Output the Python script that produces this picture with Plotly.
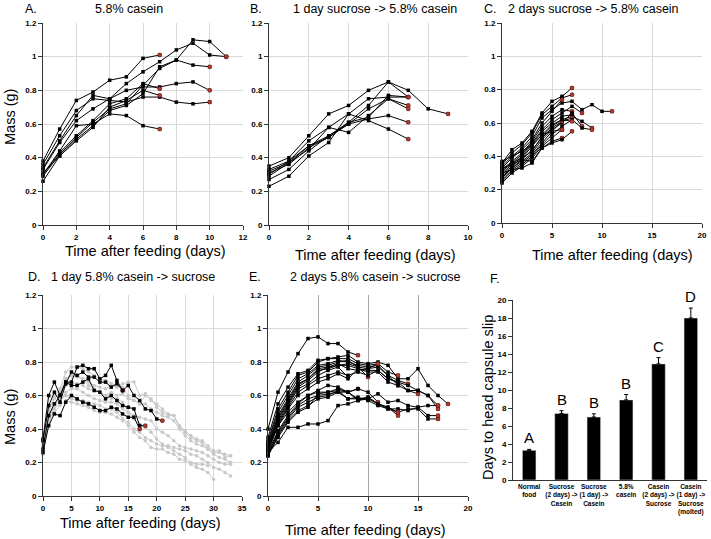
import plotly.graph_objects as go
from plotly.subplots import make_subplots

# mass (g) per day, one list per caterpillar; day = index
casein_58 = [
    [0.38, 0.57, 0.74, 0.79, 0.86, 0.88, 0.99, 1.01],
    [0.36, 0.53, 0.68, 0.75, 0.74, 0.73, 0.76, 0.76, 0.73, 0.72, 0.73],
    [0.34, 0.50, 0.65, 0.77, 0.75, 0.84, 0.91, 0.97, 1.04, 1.08, 1.01, 1.00],
    [0.33, 0.49, 0.62, 0.69, 0.75, 0.80, 0.82, 0.82, 0.84, 0.85, 0.80],
    [0.30, 0.44, 0.59, 0.60, 0.66, 0.65, 0.59, 0.57],
    [0.30, 0.43, 0.53, 0.62, 0.72, 0.75, 0.84, 0.81],
    [0.29, 0.42, 0.52, 0.61, 0.69, 0.72, 0.83, 0.93, 0.98, 1.10, 1.09, 1.00],
    [0.26, 0.41, 0.51, 0.59, 0.68, 0.71, 0.78, 0.94, 0.98, 0.95, 0.94],
    [0.31, 0.41, 0.50, 0.58, 0.70, 0.74, 0.80, 0.77],
]

sucrose1_casein = [
    [0.35, 0.40, 0.53, 0.66, 0.71, 0.80, 0.85, 0.80, 0.69, 0.66],
    [0.33, 0.38, 0.50, 0.58, 0.66, 0.75, 0.76, 0.76],
    [0.32, 0.37, 0.47, 0.53, 0.61, 0.71, 0.85, 0.76],
    [0.31, 0.36, 0.46, 0.52, 0.60, 0.69, 0.75, 0.71],
    [0.29, 0.37, 0.45, 0.58, 0.55, 0.65, 0.75, 0.69],
    [0.27, 0.33, 0.44, 0.53, 0.60, 0.63, 0.65, 0.61],
    [0.23, 0.29, 0.41, 0.49, 0.66, 0.62, 0.57, 0.51],
    [0.30, 0.38, 0.47, 0.52, 0.61, 0.64, 0.77, 0.76],
]

sucrose2_casein = [
    [0.36, 0.44, 0.48, 0.55, 0.66, 0.73, 0.76, 0.81],
    [0.35, 0.42, 0.47, 0.54, 0.65, 0.70, 0.75, 0.77],
    [0.34, 0.40, 0.45, 0.52, 0.63, 0.68, 0.72, 0.73, 0.68, 0.71, 0.67, 0.67],
    [0.33, 0.39, 0.44, 0.50, 0.60, 0.67, 0.74],
    [0.32, 0.37, 0.42, 0.49, 0.58, 0.64, 0.68, 0.67],
    [0.31, 0.36, 0.41, 0.48, 0.56, 0.62, 0.66, 0.70, 0.66],
    [0.30, 0.35, 0.40, 0.47, 0.55, 0.60, 0.64, 0.65],
    [0.29, 0.34, 0.39, 0.46, 0.53, 0.59, 0.62, 0.64, 0.61, 0.57],
    [0.28, 0.33, 0.38, 0.44, 0.51, 0.57, 0.61, 0.63],
    [0.27, 0.33, 0.37, 0.42, 0.50, 0.56, 0.60, 0.66, 0.58],
    [0.26, 0.32, 0.36, 0.41, 0.48, 0.55, 0.61],
    [0.25, 0.31, 0.35, 0.40, 0.47, 0.53, 0.58, 0.62, 0.57, 0.56],
    [0.24, 0.30, 0.34, 0.39, 0.46, 0.51, 0.56],
    [0.37, 0.40, 0.43, 0.47, 0.53, 0.55, 0.56],
    [0.33, 0.35, 0.38, 0.37, 0.45, 0.49, 0.51],
    [0.30, 0.32, 0.33, 0.36, 0.45, 0.48, 0.50, 0.55],
    [0.32, 0.36, 0.39, 0.43, 0.52, 0.58, 0.62, 0.61],
]

casein1_sucrose = [
    [0.34, 0.60, 0.68, 0.60, 0.68, 0.68, 0.77, 0.78, 0.76, 0.76, 0.70, 0.72, 0.78, 0.69, 0.63],
    [0.33, 0.54, 0.62, 0.56, 0.67, 0.74, 0.72, 0.74, 0.71, 0.71, 0.68, 0.68, 0.65, 0.67, 0.63,
     0.66, 0.60, 0.57, 0.52, 0.51, 0.46, 0.45],
    [0.28, 0.48, 0.55, 0.60, 0.68, 0.66, 0.66, 0.68, 0.70, 0.63, 0.62, 0.58, 0.60, 0.57, 0.54,
     0.53, 0.52, 0.42, 0.42],
    [0.26, 0.42, 0.49, 0.48, 0.56, 0.60, 0.58, 0.56, 0.55, 0.53, 0.51, 0.51, 0.53, 0.52, 0.49,
     0.47, 0.47, 0.40],
]

# molted larvae (grey)
casein1_sucrose_molted = [
    [0.30, 0.50, 0.58, 0.62, 0.70, 0.72, 0.72, 0.70, 0.68, 0.66, 0.65, 0.64, 0.66, 0.65, 0.67,
     0.68, 0.68, 0.60, 0.61, 0.57, 0.55, 0.52, 0.49, 0.48, 0.41, 0.38, 0.35, 0.33, 0.32, 0.28,
     0.26, 0.26, 0.25, 0.24],
    [0.28, 0.48, 0.55, 0.58, 0.66, 0.68, 0.67, 0.66, 0.64, 0.63, 0.62, 0.60, 0.62, 0.60, 0.61,
     0.58, 0.57, 0.55, 0.55, 0.52, 0.50, 0.48, 0.47, 0.45, 0.40, 0.36, 0.33, 0.31, 0.30, 0.28,
     0.25, 0.23, 0.22, 0.20],
    [0.27, 0.45, 0.52, 0.56, 0.62, 0.64, 0.64, 0.62, 0.60, 0.58, 0.57, 0.56, 0.56, 0.55, 0.52,
     0.50, 0.48, 0.47, 0.46, 0.45, 0.40, 0.38, 0.36, 0.33, 0.30, 0.29, 0.28, 0.27, 0.26, 0.24,
     0.22, 0.20, 0.19, 0.19],
    [0.30, 0.47, 0.54, 0.57, 0.60, 0.58, 0.57, 0.57, 0.56, 0.55, 0.54, 0.52, 0.52, 0.50, 0.46,
     0.44, 0.40, 0.38, 0.35, 0.33, 0.31, 0.30, 0.30, 0.29, 0.28, 0.27, 0.25, 0.24, 0.22, 0.20,
     0.17, 0.16, 0.14, 0.12],
    [0.25, 0.44, 0.50, 0.54, 0.57, 0.56, 0.55, 0.54, 0.53, 0.51, 0.50, 0.50, 0.49, 0.47, 0.45,
     0.42, 0.38, 0.35, 0.33, 0.29, 0.28, 0.28, 0.26, 0.25, 0.22, 0.21, 0.19, 0.17, 0.16, 0.14,
     0.10],
    [0.28, 0.46, 0.54, 0.60, 0.70, 0.72, 0.71, 0.70, 0.66, 0.64, 0.62, 0.60, 0.58, 0.58, 0.56,
     0.50, 0.46, 0.43, 0.41, 0.38, 0.34, 0.31, 0.29, 0.27, 0.25, 0.23, 0.20, 0.19, 0.19, 0.18],
    [0.32, 0.52, 0.60, 0.64, 0.74, 0.77, 0.77, 0.76, 0.74, 0.72, 0.70, 0.69, 0.67, 0.66, 0.65,
     0.60, 0.57, 0.55, 0.60, 0.58, 0.53, 0.50, 0.48, 0.48, 0.42, 0.39, 0.36, 0.34, 0.33, 0.30,
     0.27, 0.27, 0.23, 0.24],
]

casein2_sucrose = [
    [0.40, 0.62, 0.74, 0.85, 0.94, 0.95, 0.91, 0.91, 0.86, 0.84],
    [0.35, 0.55, 0.65, 0.73, 0.75, 0.81, 0.82, 0.83, 0.84, 0.80, 0.79, 0.80, 0.78, 0.70, 0.70,
     0.76, 0.66, 0.60, 0.55],
    [0.33, 0.52, 0.62, 0.72, 0.74, 0.80, 0.82, 0.82, 0.82, 0.79, 0.78, 0.79, 0.74, 0.72],
    [0.32, 0.50, 0.60, 0.70, 0.73, 0.78, 0.79, 0.81, 0.80, 0.78, 0.77, 0.78, 0.72, 0.69, 0.67],
    [0.31, 0.48, 0.58, 0.68, 0.72, 0.77, 0.78, 0.80, 0.81, 0.77, 0.76, 0.77, 0.72, 0.66],
    [0.30, 0.47, 0.57, 0.67, 0.70, 0.76, 0.77, 0.78, 0.79, 0.77, 0.71],
    [0.30, 0.46, 0.56, 0.66, 0.70, 0.75, 0.76, 0.78, 0.78, 0.76, 0.75, 0.75, 0.70, 0.68, 0.63, 0.61],
    [0.29, 0.45, 0.55, 0.65, 0.69, 0.74, 0.77, 0.79, 0.76, 0.75, 0.76, 0.79],
    [0.28, 0.44, 0.54, 0.64, 0.67, 0.72, 0.75, 0.77, 0.71],
    [0.28, 0.43, 0.53, 0.62, 0.66, 0.70, 0.72, 0.74, 0.72, 0.74, 0.72, 0.75, 0.70, 0.68, 0.66,
     0.63, 0.60, 0.52],
    [0.27, 0.42, 0.52, 0.60, 0.64, 0.68, 0.70, 0.73, 0.70, 0.76, 0.74, 0.74, 0.68, 0.66, 0.63,
     0.63, 0.60, 0.54],
    [0.27, 0.42, 0.50, 0.56, 0.60, 0.63, 0.66, 0.65, 0.62, 0.64],
    [0.26, 0.39, 0.48, 0.55, 0.60, 0.62, 0.62, 0.64, 0.62, 0.64, 0.62, 0.56],
    [0.25, 0.38, 0.47, 0.54, 0.58, 0.60, 0.61, 0.62, 0.62, 0.58, 0.58, 0.61, 0.56, 0.57, 0.54,
     0.53, 0.54, 0.54],
    [0.25, 0.37, 0.46, 0.53, 0.56, 0.59, 0.60, 0.63, 0.62, 0.57, 0.58, 0.55, 0.53, 0.48],
    [0.24, 0.36, 0.45, 0.51, 0.54, 0.58, 0.59, 0.62, 0.58, 0.58, 0.59, 0.55, 0.52, 0.50, 0.52,
     0.52, 0.46, 0.46],
    [0.24, 0.35, 0.44, 0.50, 0.53, 0.61, 0.62, 0.63, 0.58, 0.59, 0.57, 0.54, 0.52, 0.52, 0.51,
     0.53, 0.48, 0.48],
    [0.26, 0.32, 0.41, 0.41, 0.43, 0.43, 0.45, 0.54, 0.55, 0.57, 0.59, 0.55, 0.53, 0.50],
]

treatments = ["Normal<br>food", "Sucrose<br>(2 days) -><br>Casein", "Sucrose<br>(1 day) -><br>Casein",
              "5.8%<br>casein", "Casein<br>(2 days) -><br>Sucrose", "Casein<br>(1 day) -><br>Sucrose<br>(molted)"]
days_to_slip = [3.3, 7.4, 7.0, 8.9, 12.9, 18.0]
slip_err = [0.1, 0.3, 0.35, 0.6, 0.7, 1.1]
letters = ["A", "B", "B", "B", "C", "D"]

RED = "#b03a2e"
GREY = "#c8c8c8"

fig = make_subplots(rows=2, cols=3)


def add_growth(series, row, col, color="black", sym="square", end=True):
    for s in series:
        days = list(range(len(s)))
        fig.add_trace(go.Scatter(x=days, y=s, mode="lines+markers", cliponaxis=False,
                                 line=dict(color=color, width=1),
                                 marker=dict(symbol=sym, size=3.5, color=color),
                                 showlegend=False, hoverinfo="skip"), row=row, col=col)
        if end:
            fig.add_trace(go.Scatter(x=[days[-1]], y=[s[-1]], mode="markers", cliponaxis=False,
                                     marker=dict(size=4, color=RED, line=dict(color="#6e2018", width=0.5)),
                                     showlegend=False, hoverinfo="skip"), row=row, col=col)


add_growth(casein_58, 1, 1)
add_growth(sucrose1_casein, 1, 2)
add_growth(sucrose2_casein, 1, 3)
add_growth(casein1_sucrose_molted, 2, 1, color=GREY, sym="circle", end=False)
add_growth(casein1_sucrose, 2, 1)
add_growth(casein2_sucrose, 2, 2)

fig.add_trace(go.Bar(x=treatments, y=days_to_slip, width=0.42, marker_color="black",
                     error_y=dict(type="data", array=slip_err, arrayminus=[0] * 6, symmetric=False,
                                  color="black", thickness=1, width=2),
                     showlegend=False), row=2, col=3)

W, H = 711, 539


def px_x(a, b):
    return [a / W, b / W]


def px_y(top, bottom):
    return [1 - bottom / H, 1 - top / H]


tickfont = dict(family="Arial", size=8, color="black", weight="bold")
axis_style = dict(showline=True, linecolor="#333", linewidth=1, ticks="outside", ticklen=4,
                  tickcolor="#333", tickfont=tickfont, zeroline=False, showgrid=True,
                  gridcolor="#d9d9d9", gridwidth=1, automargin=False)

fig.update_layout(
    width=W, height=H, margin=dict(l=0, r=0, t=0, b=0, autoexpand=False),
    plot_bgcolor="white", paper_bgcolor="white", font=dict(family="Arial", color="black"),
    xaxis=dict(domain=px_x(43, 243), range=[0, 12], dtick=2, **axis_style),
    yaxis=dict(domain=px_y(23, 225), range=[0, 1.2], dtick=0.2, **axis_style),
    xaxis2=dict(domain=px_x(269, 468), range=[0, 10], dtick=2, **axis_style),
    yaxis2=dict(domain=px_y(23, 225), range=[0, 1.2], dtick=0.2, **axis_style),
    xaxis3=dict(domain=px_x(502, 702), range=[0, 20], dtick=5, **axis_style),
    yaxis3=dict(domain=px_y(23, 223), range=[0, 1.2], dtick=0.2, **axis_style),
    xaxis4=dict(domain=px_x(43, 242), range=[0, 35], dtick=5, **axis_style),
    yaxis4=dict(domain=px_y(295, 496), range=[0, 1.2], dtick=0.2, **axis_style),
    xaxis5=dict(domain=px_x(268, 468), range=[0, 20], dtick=5, **axis_style),
    yaxis5=dict(domain=px_y(295, 496), range=[0, 1.2], dtick=0.2, **axis_style),
    xaxis6=dict(domain=px_x(513, 707), showline=True, linecolor="#333", ticks="", tickangle=0,
                automargin=False, tickfont=dict(family="Arial", size=6.5, color="black", weight="bold")),
    yaxis6=dict(domain=px_y(300, 480), range=[0, 20], dtick=2, showline=True, linecolor="#333",
                ticks="outside", ticklen=4, tickcolor="#333", tickfont=tickfont, showgrid=False,
                zeroline=False, automargin=False),
)
fig.update_xaxes(gridcolor="#a6a6a6", row=2, col=2)

ann = []


def text(x, y, s, size=12.5, xanchor="center", **kw):
    ann.append(dict(x=x / W, y=1 - y / H, xref="paper", yref="paper", text=s, showarrow=False,
                    xanchor=xanchor, yanchor="middle",
                    font=dict(family="Arial", size=size, color="black"), **kw))


# panel titles
text(23, 9, "A.", xanchor="left")
text(129, 9, "5.8% casein")
text(248, 9, "B.", xanchor="left")
text(375, 9, "1 day sucrose -> 5.8% casein")
text(482, 9, "C.", xanchor="left")
text(593, 9, "2 days sucrose -> 5.8% casein")
text(26, 277, "D.", xanchor="left")
text(133, 277, "1 day 5.8% casein -> sucrose")
text(247, 277, "E.", xanchor="left")
text(375, 277, "2 days 5.8% casein -> sucrose")
text(488, 279, "F.", xanchor="left")

# axis titles
text(145, 251, "Time after feeding (days)", size=14.5)
text(375, 255, "Time after feeding (days)", size=14.5)
text(612, 255, "Time after feeding (days)", size=14.5)
text(140, 523, "Time after feeding (days)", size=14.5)
text(365, 530, "Time after feeding (days)", size=14.5)
text(10, 117, "Mass (g)", size=14.5, textangle=-90)
text(10, 417, "Mass (g)", size=14.5, textangle=-90)
text(488, 398, "Days to head capsule slip", size=14.5, textangle=-90)

for t, v, e, l in zip(treatments, days_to_slip, slip_err, letters):
    ann.append(dict(x=t, y=v + e, xref="x6", yref="y6", text=l, showarrow=False, yanchor="bottom",
                    yshift=1, font=dict(family="Arial", size=15, color="black")))

fig.update_layout(annotations=ann)
fig.write_html("out.html", config={"displayModeBar": False},
               post_script="document.body.style.margin='0';")
